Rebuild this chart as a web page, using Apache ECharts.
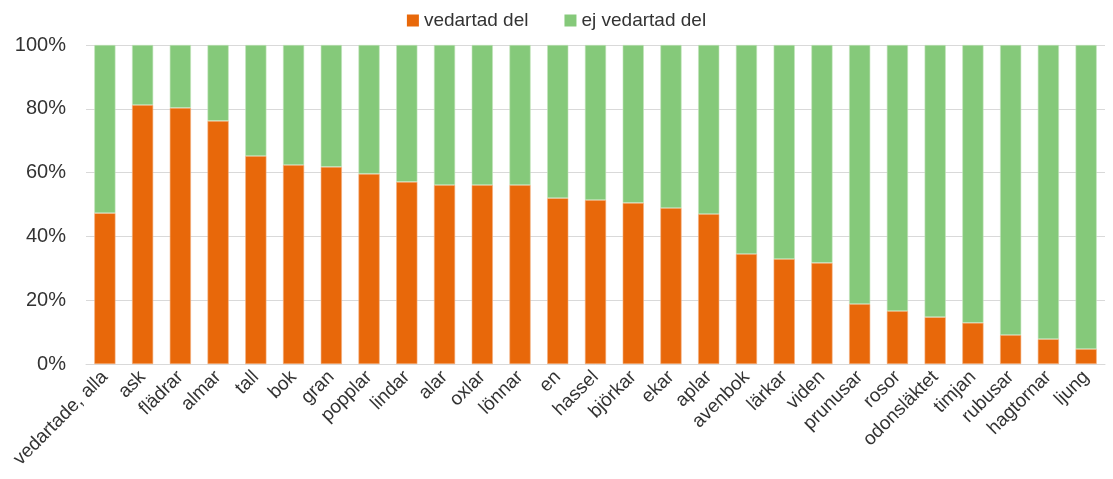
<!DOCTYPE html>
<html>
<head>
<meta charset="utf-8">
<script src="https://cdn.jsdelivr.net/npm/echarts@6/dist/echarts.min.js"></script>
<style>
  html, body { margin: 0; padding: 0; background: #fff; }
  #myechart { width: 1113px; height: 479px; }
</style>
</head>
<body>
<div id="myechart"></div>
<script>
var categories = ['vedartade, alla', 'ask', 'flädrar', 'almar', 'tall', 'bok', 'gran', 'popplar',
  'lindar', 'alar', 'oxlar', 'lönnar', 'en', 'hassel', 'björkar', 'ekar', 'aplar', 'avenbok',
  'lärkar', 'viden', 'prunusar', 'rosor', 'odonsläktet', 'timjan', 'rubusar', 'hagtornar', 'ljung'];

// share in percent
var vedartad = [47.3, 81.2, 80.3, 76.2, 65.2, 62.4, 61.8, 59.6, 57.1, 56.1, 56.1, 56.1, 52.0, 51.4,
  50.5, 48.9, 47.0, 34.5, 32.9, 31.7, 18.8, 16.6, 14.7, 12.9, 9.1, 7.8, 4.7];
var ejVedartad = [52.7, 18.8, 19.7, 23.8, 34.8, 37.6, 38.2, 40.4, 42.9, 43.9, 43.9, 43.9, 48.0, 48.6,
  49.5, 51.1, 53.0, 65.5, 67.1, 68.3, 81.2, 83.4, 85.3, 87.1, 90.9, 92.2, 95.3];

var yTicks = [0, 20, 40, 60, 80, 100];

var font = 'Liberation Sans, Arial, sans-serif';
var myechart = echarts.init(document.getElementById('myechart'));

myechart.setOption({
  animation: false,
  textStyle: { fontFamily: font },
  legend: {
    top: 6,
    left: 'center',
    itemWidth: 12,
    itemHeight: 12,
    itemGap: 36,
    icon: 'rect',
    itemStyle: { borderWidth: 0 },
    textStyle: { fontSize: 19, color: '#333', fontFamily: font },
    data: ['vedartad del', 'ej vedartad del']
  },
  grid: { left: 86, right: 8, top: 45, bottom: 115, containLabel: false },
  xAxis: {
    type: 'category',
    data: categories,
    axisLine: { show: true, lineStyle: { color: '#d9d9d9', width: 1 } },
    axisTick: { show: false },
    axisLabel: {
      interval: 0,
      rotate: 45,
      fontSize: 19,
      color: '#333',
      margin: 10,
      fontFamily: font
    }
  },
  yAxis: {
    type: 'value',
    min: yTicks[0],
    max: yTicks[yTicks.length - 1],
    interval: 20,
    axisLine: { show: false },
    axisTick: { show: false },
    splitLine: { lineStyle: { color: '#d9d9d9', width: 1 } },
    axisLabel: {
      formatter: '{value}%',
      fontSize: 20,
      color: '#333',
      margin: 20,
      fontFamily: font
    }
  },
  series: [
    {
      name: 'vedartad del',
      type: 'bar',
      stack: 'total',
      barWidth: '56%',
      data: vedartad,
      itemStyle: { color: '#E8680A', borderColor: '#F3B07F', borderWidth: 0.6 }
    },
    {
      name: 'ej vedartad del',
      type: 'bar',
      stack: 'total',
      barWidth: '56%',
      data: ejVedartad,
      itemStyle: { color: '#85C97A', borderColor: '#C2E4BC', borderWidth: 0.6 }
    }
  ]
});
</script>
</body>
</html>
